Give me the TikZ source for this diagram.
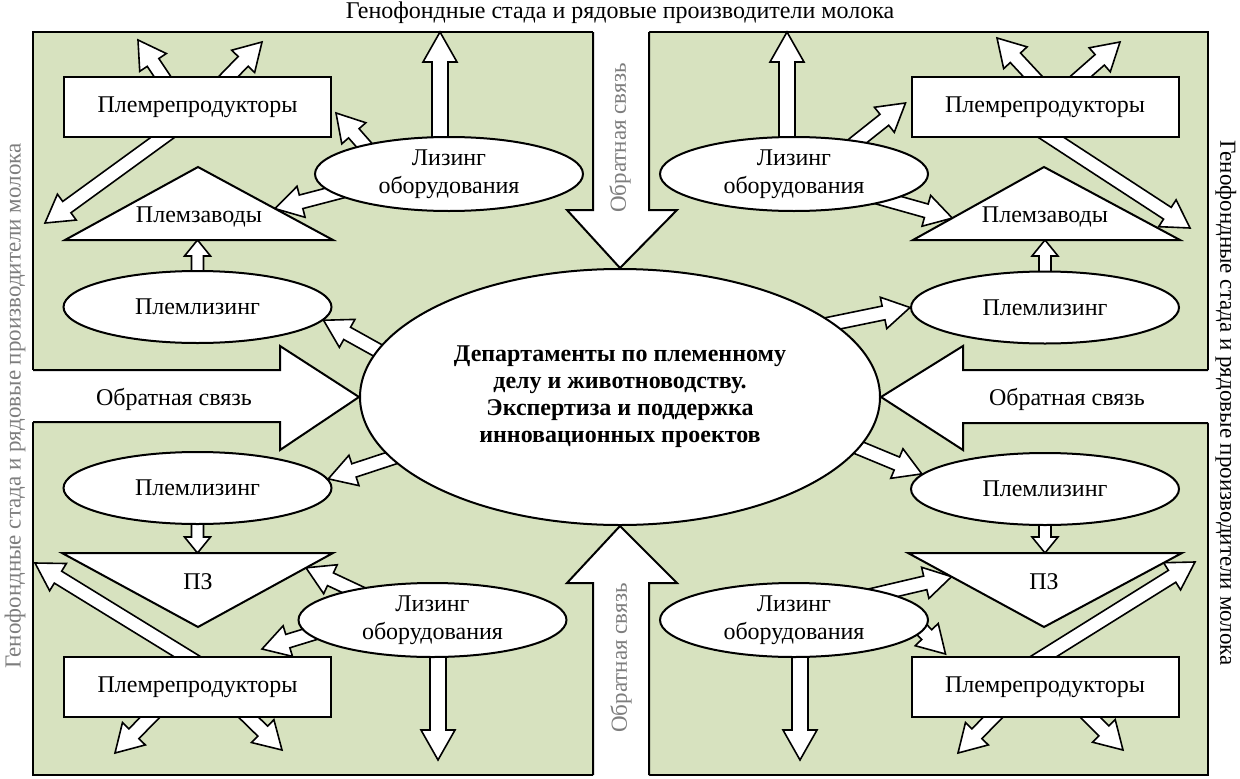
\documentclass[tikz,border=0pt]{standalone}
\usepackage{fontspec}
\setmainfont{Liberation Serif}
\usetikzlibrary{shapes.geometric,calc,backgrounds}
\definecolor{pasture}{RGB}{215,226,191}
\definecolor{faded}{RGB}{125,125,125}

\newcommand\hollowarrow[5]{%
  \coordinate (tl) at (#1);
  \coordinate (tp) at (#2);
  \coordinate (nk) at ($(tp)!#5!(tl)$);
  \filldraw[arrowline] ($(tl)!#3!90:(tp)$) -- ($(nk)!#3!90:(tp)$) -- ($(nk)!#4!90:(tp)$) -- (tp)
    -- ($(nk)!#4!-90:(tp)$) -- ($(nk)!#3!-90:(tp)$) -- ($(tl)!#3!-90:(tp)$) -- cycle;}
\newcommand\thinarrow[2]{\hollowarrow{#1}{#2}{7pt}{16pt}{27pt}}

\begin{document}
\begin{tikzpicture}[x=1pt,y=-1pt,
    every node/.style={font=\fontsize{24}{28}\selectfont},
    box/.style={draw,fill=white,line width=2pt,inner sep=0pt,minimum width=267pt,minimum height=60pt},
    oval/.style={ellipse,draw,fill=white,line width=2pt,inner sep=0pt,align=center,minimum width=268pt,minimum height=74pt},
    tri/.style={draw,fill=white,line width=2pt},
    arrowline/.style={draw,fill=white,line width=1.6pt},
    feedline/.style={line width=2pt}]
      \useasboundingbox (0,0) rectangle (1240,779);
      \node[oval,minimum width=520pt,minimum height=256pt,font=\bfseries\fontsize{24}{27}\selectfont] (dep) at (620,397)
        {Департаменты по племенному\\делу и животноводству.\\Экспертиза и поддержка\\инновационных проектов};
      \node[box] (prtl) at (197.5,107) {Племрепродукторы};
      \node[box] (prtr) at (1045,107) {Племрепродукторы};
      \node[box] (prbl) at (197.5,687) {Племрепродукторы};
      \node[box] (prbr) at (1045,687) {Племрепродукторы};
      \node[oval] (lztl) at (449,174) {Лизинг\\оборудования};
      \node[oval] (lztr) at (794,174) {Лизинг\\оборудования};
      \node[oval] (lzbl) at (432.5,620) {Лизинг\\оборудования};
      \node[oval] (lzbr) at (794,620) {Лизинг\\оборудования};
      \node[oval,minimum height=72pt] (pltl) at (197.5,307) {Племлизинг};
      \node[oval,minimum height=72pt] (pltr) at (1045,307.5) {Племлизинг};
      \node[oval,minimum height=72pt] (plbl) at (197.5,488) {Племлизинг};
      \node[oval,minimum height=72pt] (plbr) at (1045,489) {Племлизинг};
      \draw[tri] (65,240) coordinate (ztl1) -- (198,167) coordinate (ztl2) -- (333,240) coordinate (ztl3) -- cycle;
      \draw[tri] (913,240) coordinate (ztr1) -- (1044,167) coordinate (ztr2) -- (1180,240) coordinate (ztr3) -- cycle;
      \draw[tri] (62,553) coordinate (zbl1) -- (333,553) coordinate (zbl2) -- (198,627) coordinate (zbl3) -- cycle;
      \draw[tri] (908,553) coordinate (zbr1) -- (1182,553) coordinate (zbr2) -- (1044,627) coordinate (zbr3) -- cycle;
      \node (zavtl) at (199,217) {Племзаводы};
      \node (zavtr) at (1045,217) {Племзаводы};
      \node (pzbl) at (198,582) {ПЗ};
      \node (pzbr) at (1044,582) {ПЗ};
      \node (herdt) at (620,13) {Генофондные стада и рядовые производители молока};
      \node[rotate=90,text=faded,font=\fontsize{23}{27}\selectfont] (herdl) at (15,406) {Генофондные стада и рядовые производители молока};
      \node[rotate=-90,font=\fontsize{23}{27}\selectfont] (herdr) at (1226,403) {Генофондные стада и рядовые производители молока};
      \node (fbl) at (174,399) {Обратная связь};
      \node (fbr) at (1067,399) {Обратная связь};
      \node[rotate=90,text=faded,font=\fontsize{23}{27}\selectfont] (fbt) at (620,138) {Обратная связь};
      \node[rotate=90,text=faded,font=\fontsize{23}{27}\selectfont] (fbb) at (621,658) {Обратная связь};
      \coordinate (otl1) at (138,40);
      \coordinate (otl2) at (262,42);
      \coordinate (otl3) at (45,223);
      \coordinate (otl4) at (440,32);
      \coordinate (otr1) at (997,38);
      \coordinate (otr2) at (1120,42);
      \coordinate (otr3) at (1190,228);
      \coordinate (otr4) at (787,32);
      \coordinate (obl1) at (35,563);
      \coordinate (obl2) at (115,753);
      \coordinate (obl3) at (282,750);
      \coordinate (obl4) at (438,760);
      \coordinate (obr1) at (1195,562);
      \coordinate (obr2) at (958,753);
      \coordinate (obr3) at (1123,750);
      \coordinate (obr4) at (800,760);
      \begin{scope}[on background layer]
        \filldraw[fill=pasture,line width=2pt] (33,32) rectangle (1208,775);
        \fill[white] (25,370) -- (280,370) -- (280,346) -- (dep.west) -- (280,450) -- (280,422) -- (25,422) -- cycle;
        \draw[feedline] (33,370) -- (280,370) -- (280,346) -- (dep.west) -- (280,450) -- (280,422) -- (33,422);
        \fill[white] (1216,370) -- (963,370) -- (963,346) -- (dep.east) -- (963,450) -- (963,423) -- (1216,423) -- cycle;
        \draw[feedline] (1208,370) -- (963,370) -- (963,346) -- (dep.east) -- (963,450) -- (963,423) -- (1208,423);
        \fill[white] (593,24) -- (593,210) -- (567,210) -- (dep.north) -- (677,210) -- (649,210) -- (649,24) -- cycle;
        \draw[feedline] (593,32) -- (593,210) -- (567,210) -- (dep.north) -- (677,210) -- (649,210) -- (649,32);
        \fill[white] (593,783) -- (593,583) -- (567,583) -- (dep.south) -- (677,583) -- (649,583) -- (649,783) -- cycle;
        \draw[feedline] (593,775) -- (593,583) -- (567,583) -- (dep.south) -- (677,583) -- (649,583) -- (649,775);
        \thinarrow{$(prtl.north)+(-22,20)$}{otl1}
        \thinarrow{$(prtl.north)+(12,20)$}{otl2}
        \thinarrow{$(prtl.south)+(-15,-15)$}{otl3}
        \thinarrow{$(lztl.center)+(-70,-12)$}{$(prtl.east)+(4,6)$}
        \thinarrow{$(lztl.center)+(-95,14)$}{$(ztl2)!0.57!(ztl3)$}
        \hollowarrow{$(lztl.center)+(-9,-10)$}{otl4}{8pt}{17pt}{30pt}
        \hollowarrow{pltl}{pltl |- ztl1}{6pt}{13pt}{16pt}
        \thinarrow{$(dep.center)+(-225,-37)$}{pltl.-6}
        \thinarrow{$(dep.center)+(-210,55)$}{plbl.4}
        \hollowarrow{plbl}{plbl |- zbl1}{6pt}{13pt}{16pt}
        \thinarrow{$(lzbl.center)+(-62,-22)$}{$(zbl2)!0.2!(zbl3)$}
        \thinarrow{$(lzbl.center)+(-102,8)$}{$(prbl.north)+(64.5,-7)$}
        \hollowarrow{$(lzbl.center)+(5.5,10)$}{obl4}{8pt}{17pt}{30pt}
        \thinarrow{$(prbl.center)+(11.5,-17)$}{obl1}
        \thinarrow{$(prbl.center)+(-32.5,15)$}{obl2}
        \thinarrow{$(prbl.center)+(35.5,15)$}{obl3}
        \thinarrow{$(prtr.center)+(5,-12)$}{otr1}
        \thinarrow{$(prtr.center)+(17,-14)$}{otr2}
        \thinarrow{$(prtr.center)+(-16,16)$}{otr3}
        \thinarrow{$(lztr.center)+(46,-19)$}{$(prtr.west)+(-5,-4)$}
        \thinarrow{$(lztr.center)+(76,21)$}{$(ztr1)!0.3!(ztr2)$}
        \hollowarrow{$(lztr.center)+(-7,-10)$}{otr4}{8pt}{17pt}{30pt}
        \hollowarrow{pltr}{pltr |- ztr1}{6pt}{13pt}{16pt}
        \thinarrow{$(dep.center)+(195,-70)$}{pltr.west}
        \thinarrow{$(dep.center)+(220,43)$}{plbr.173}
        \hollowarrow{plbr}{plbr |- zbr1}{6pt}{13pt}{16pt}
        \thinarrow{$(lzbr.center)+(71,-23)$}{$(zbr1)!0.32!(zbr3)$}
        \thinarrow{$(lzbr.center)+(106,-13)$}{$(prbr.north west)+(35,-2)$}
        \hollowarrow{$(lzbr.center)+(6,10)$}{obr4}{8pt}{17pt}{30pt}
        \thinarrow{$(prbr.center)+(-23,-17)$}{obr1}
        \thinarrow{$(prbr.center)+(-37,15)$}{obr2}
        \thinarrow{$(prbr.center)+(30,15)$}{obr3}
      \end{scope}
    \end{tikzpicture}
\end{document}
